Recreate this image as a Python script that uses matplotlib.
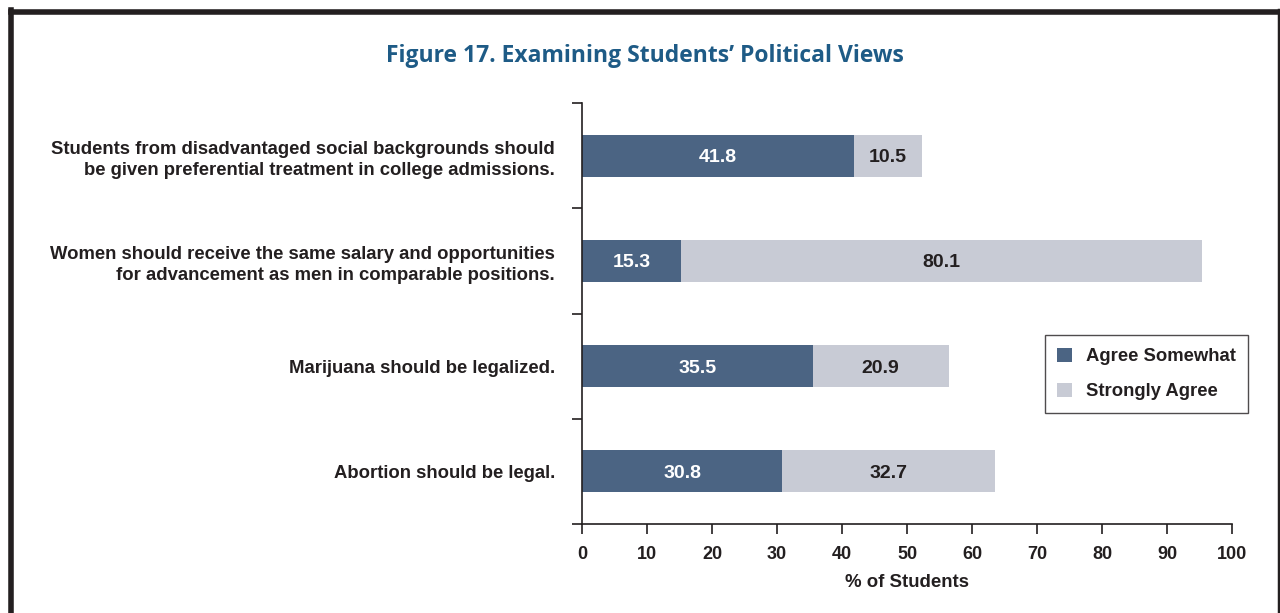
import numpy as np
import matplotlib.pyplot as plt
from matplotlib.lines import Line2D

# Survey statements and percentages
statements = [
    'Students from disadvantaged social backgrounds should\nbe given preferential treatment in college admissions.',
    'Women should receive the same salary and opportunities\nfor advancement as men in comparable positions.',
    'Marijuana should be legalized.',
    'Abortion should be legal.',
]
agree_somewhat = [41.8, 15.3, 35.5, 30.8]
strongly_agree = [10.5, 80.1, 20.9, 32.7]
series_names = ['Agree Somewhat', 'Strongly Agree']
x_ticks = [0, 10, 20, 30, 40, 50, 60, 70, 80, 90, 100]

dark = '#4b6483'
light = '#c8cbd5'
txt = '#231f20'
title_col = '#1e5b86'

plt.rcParams['font.family'] = ['Liberation Sans', 'DejaVu Sans']
plt.rcParams['font.weight'] = 'bold'

fig = plt.figure(figsize=(12.8, 6.13), dpi=100)
ax = fig.add_axes([582 / 1280, 1 - 524 / 613, 650 / 1280, 421 / 613])

y = np.arange(len(statements))
h = 0.4
ax.barh(y, agree_somewhat, height=h, color=dark, label=series_names[0])
ax.barh(y, strongly_agree, left=agree_somewhat, height=h, color=light,
        label=series_names[1])

for i in range(len(y)):
    a, s = agree_somewhat[i], strongly_agree[i]
    ax.text(a / 2, y[i], f'{a:.1f}', ha='center', va='center_baseline',
            color='white', fontsize=14, fontweight='bold')
    ax.text(a + s / 2, y[i], f'{s:.1f}', ha='center', va='center_baseline',
            color=txt, fontsize=14, fontweight='bold')

ax.set_xlim(0, 100)
ax.set_ylim(len(statements) - 0.5, -0.5)
ax.set_xticks(x_ticks)
ax.set_xticklabels([str(t) for t in x_ticks], fontsize=13, fontweight='bold',
                   color=txt)
ax.set_yticks(y)
ax.set_yticklabels(statements, fontsize=13.3, fontweight='bold', color=txt,
                   linespacing=1.3)
ax.set_yticks(np.arange(-0.5, len(statements)), minor=True)
ax.tick_params(axis='y', which='major', length=0, pad=19.5)
ax.tick_params(axis='y', which='minor', length=7, width=1.2, color=txt)
ax.tick_params(axis='x', length=7, width=1.2, color=txt, pad=9)

for side in ['top', 'right']:
    ax.spines[side].set_visible(False)
for side in ['left', 'bottom']:
    ax.spines[side].set_linewidth(1.2)
    ax.spines[side].set_color(txt)

ax.set_xlabel('% of Students', fontsize=13.4, fontweight='bold', color=txt,
              labelpad=8)

leg = ax.legend(loc='upper left', bbox_to_anchor=(0.712, 0.449), frameon=True,
                fancybox=False, edgecolor=txt, fontsize=13.3,
                handlelength=0.8, handleheight=0.8, handletextpad=0.75,
                labelspacing=0.95, borderpad=0.68, borderaxespad=0)
leg.get_frame().set_linewidth(1.0)
for t in leg.get_texts():
    t.set_color(txt)
    t.set_fontweight('bold')

fig.text(645 / 1280, 1 - 56 / 613, 'Figure 17. Examining Students\u2019 Political Views',
         ha='center', va='center', fontsize=16.5, fontweight='bold',
         color=title_col, family=['Open Sans', 'DejaVu Sans'])

# Frame around the figure (open at the bottom)
fig.add_artist(Line2D([11 / 1280, 1278.5 / 1280], [1 - 12 / 613, 1 - 12 / 613],
                      transform=fig.transFigure, color=txt, lw=4))
fig.add_artist(Line2D([11 / 1280, 11 / 1280], [1 - 10 / 613, 0],
                      transform=fig.transFigure, color=txt, lw=4))
fig.add_artist(Line2D([1278.5 / 1280, 1278.5 / 1280], [1 - 10 / 613, 0],
                      transform=fig.transFigure, color=txt, lw=2.5))

fig.savefig('out.png', dpi=100)
